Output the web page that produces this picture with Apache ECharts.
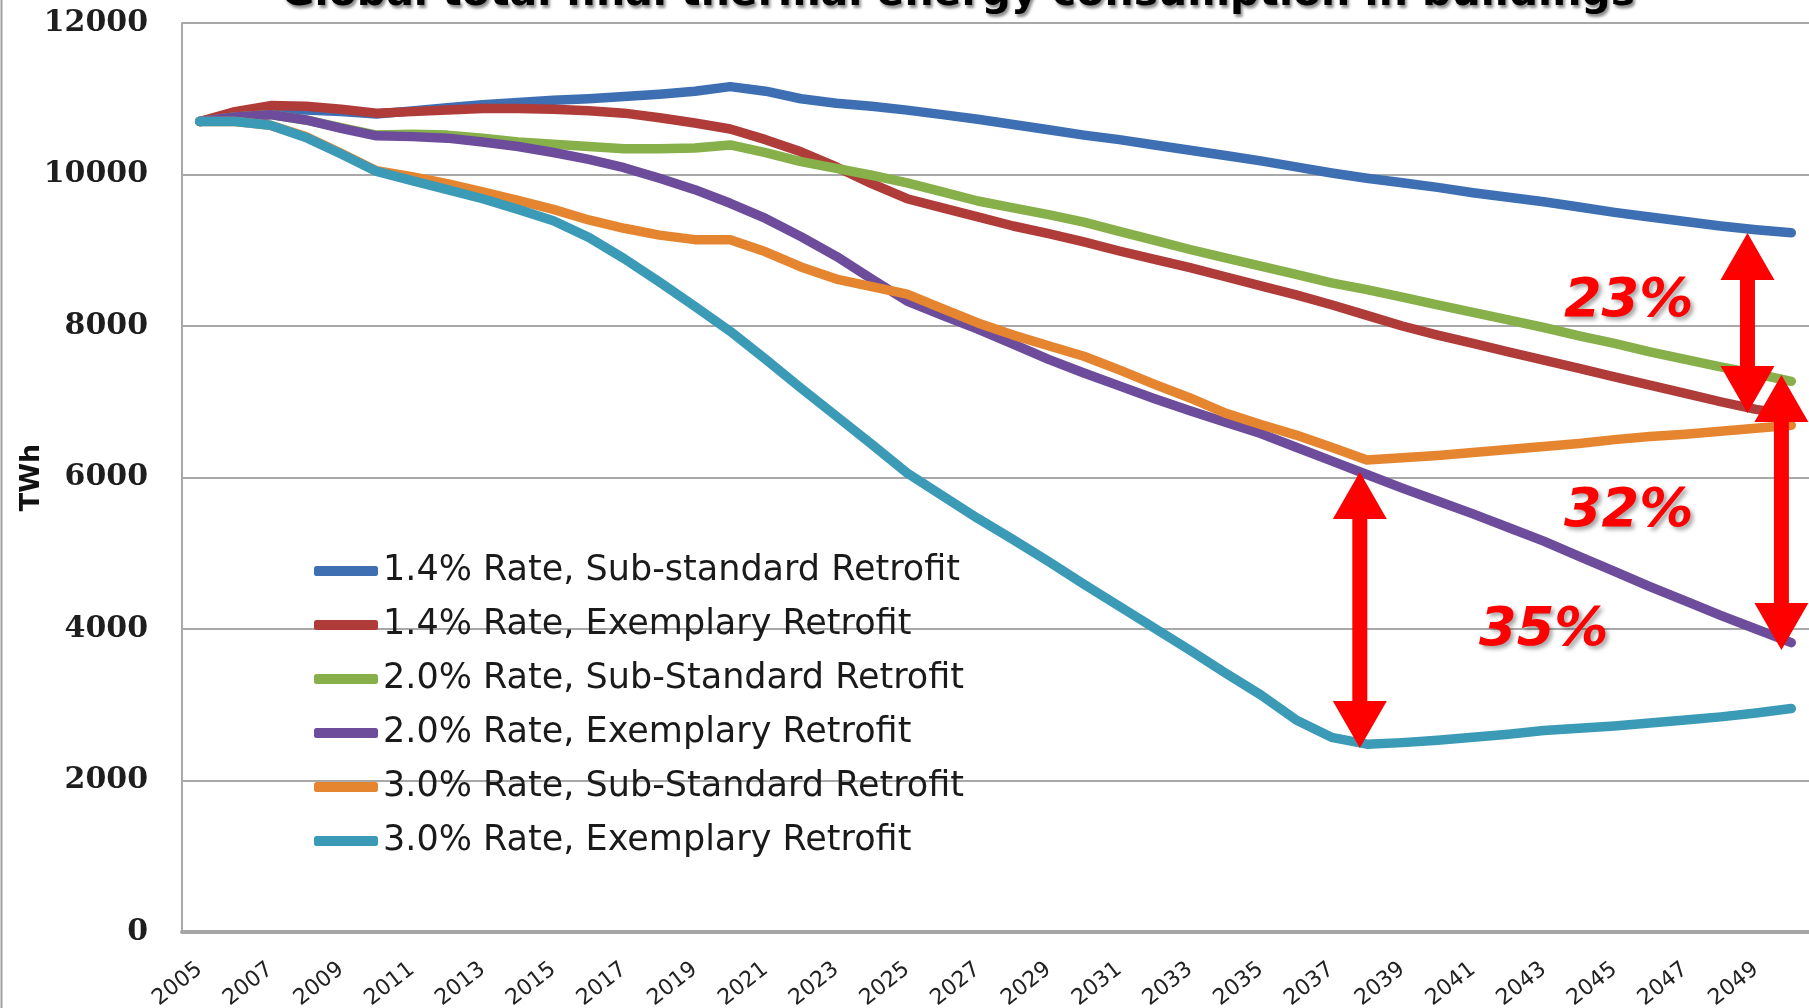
<!DOCTYPE html>
<html>
<head>
<meta charset="utf-8">
<title>Global total final thermal energy consumption in buildings</title>
<script src="https://cdn.jsdelivr.net/npm/echarts@6/dist/echarts.min.js"></script>
<style>
html, body { margin: 0; padding: 0; background: #fff; }
#main { width: 1809px; height: 1008px; }
</style>
</head>
<body>
<div id="main"></div>
<script>
// categories (years) and series values, TWh
const years = ['2005','2006','2007','2008','2009','2010','2011','2012','2013','2014','2015','2016','2017','2018','2019','2020',
	'2021','2022','2023','2024','2025','2026','2027','2028','2029','2030','2031','2032','2033','2034','2035','2036','2037','2038',
	'2039','2040','2041','2042','2043','2044','2045','2046','2047','2048','2049','2050']

const seriesNames = [
	'1.4% Rate, Sub-standard Retrofit',
	'1.4% Rate, Exemplary Retrofit',
	'2.0% Rate, Sub-Standard Retrofit',
	'2.0% Rate, Exemplary Retrofit',
	'3.0% Rate, Sub-Standard Retrofit',
	'3.0% Rate, Exemplary Retrofit'
]

const rate14Sub = [10700, 10790, 10850, 10850, 10830, 10800,
	10840, 10880, 10920, 10950, 10980, 11000, 11030, 11060, 11100, 11160,
	11100, 11000, 10940, 10900, 10850, 10790, 10730, 10660, 10590, 10520,
	10460, 10390, 10320, 10250, 10180, 10100, 10020, 9950, 9890, 9830,
	9760, 9700, 9640, 9570, 9500, 9440, 9380, 9320, 9270, 9230]

const rate14Ex = [10700, 10830, 10910, 10900, 10860, 10810,
	10830, 10850, 10870, 10870, 10860, 10840, 10810, 10750, 10680, 10600,
	10460, 10300, 10100, 9880, 9680, 9560, 9440, 9320, 9220, 9110,
	8990, 8880, 8770, 8650, 8530, 8410, 8280, 8140, 8000, 7880,
	7770, 7660, 7550, 7440, 7330, 7220, 7110, 7000, 6900, 6830]

const rate20Sub = [10700, 10760, 10790, 10720, 10620, 10520,
	10530, 10520, 10480, 10430, 10400, 10370, 10340, 10340, 10350, 10390,
	10290, 10170, 10080, 9990, 9890, 9770, 9650, 9560, 9470, 9370,
	9250, 9130, 9010, 8900, 8790, 8680, 8570, 8480, 8380, 8280,
	8180, 8080, 7980, 7870, 7770, 7660, 7560, 7460, 7370, 7270]

const rate20Ex = [10700, 10760, 10790, 10720, 10610, 10510,
	10500, 10480, 10430, 10370, 10290, 10200, 10090, 9950, 9800, 9620,
	9420, 9180, 8920, 8620, 8330, 8140, 7960, 7760, 7560, 7380,
	7210, 7040, 6880, 6730, 6580, 6400, 6220, 6040, 5860, 5690,
	5520, 5340, 5160, 4960, 4760, 4560, 4370, 4180, 4000, 3820]

const rate30Sub = [10700, 10700, 10650, 10500, 10280, 10050,
	9970, 9880, 9770, 9660, 9540, 9400, 9290, 9200, 9140, 9140,
	8980, 8780, 8620, 8520, 8420, 8230, 8040, 7880, 7740, 7600,
	7420, 7230, 7050, 6850, 6700, 6560, 6400, 6230, 6260, 6290,
	6330, 6370, 6410, 6450, 6500, 6540, 6570, 6610, 6650, 6690]

const rate30Ex = [10700, 10700, 10650, 10490, 10270, 10040,
	9920, 9800, 9680, 9540, 9390, 9170, 8890, 8580, 8260, 7930,
	7560, 7180, 6810, 6440, 6060, 5760, 5460, 5180, 4890, 4590,
	4300, 4010, 3720, 3420, 3130, 2800, 2570, 2480, 2500, 2530,
	2570, 2610, 2660, 2690, 2720, 2760, 2800, 2840, 2890, 2950]

// y axis ticks
const yTicks = [0, 2000, 4000, 6000, 8000, 10000, 12000]

// red double arrows: year index (fractional), top value, bottom value
const arrowYears = [43.76, 44.72, 32.8]
const arrowTops = [9228, 7353, 6073]
const arrowBottoms = [6851, 3723, 2429]
// percentage labels and where they sit
const pctTexts = ['23%', '32%', '35%']
const pctYears = [40.4, 40.4, 38.0]
const pctValues = [8317, 5545, 3974]

const colors = ['#3e6fb3', '#b03c3a', '#87b04b', '#6d4c9b', '#e58530', '#3b9bb7']
const seriesData = [rate14Sub, rate14Ex, rate20Sub, rate20Ex, rate30Sub, rate30Ex]

const chart = echarts.init(document.getElementById('main'))

chart.setOption({
	animation: false,
	color: colors,
	// keep the plot box fixed even though the year labels touch the bottom edge
	grid: { left: 182, right: 0, top: 23, bottom: 76, outerBoundsMode: 'none' },
	legend: {
		orient: 'vertical',
		left: 314,
		top: 551,
		padding: 0,
		itemWidth: 64,
		itemHeight: 10,
		itemGap: 14,
		icon: 'roundRect',
		data: seriesNames,
		textStyle: { fontFamily: 'DejaVu Sans', fontSize: 35, lineHeight: 40, color: '#1a1a1a' }
	},
	xAxis: {
		type: 'category',
		data: years,
		boundaryGap: true,
		axisLine: { lineStyle: { color: '#a6a6a6', width: 4 } },
		axisTick: { show: false },
		axisLabel: { interval: 1, rotate: 38, margin: 35, fontFamily: 'DejaVu Sans', fontSize: 22, color: '#222' }
	},
	yAxis: {
		type: 'value',
		min: yTicks[0],
		max: yTicks[yTicks.length - 1],
		interval: 2000,
		name: 'TWh',
		nameLocation: 'middle',
		nameRotate: 90,
		nameGap: 137,
		nameMoveOverlap: false,
		nameTextStyle: { fontFamily: 'DejaVu Sans', fontWeight: 'bold', fontSize: 27, color: '#111' },
		axisLine: { show: true, lineStyle: { color: '#a8a8a8', width: 2 } },
		axisTick: { show: false },
		splitLine: { lineStyle: { color: '#a8a8a8', width: 2 } },
		axisLabel: {
			margin: 34, fontFamily: 'DejaVu Serif', fontWeight: 'bold', fontSize: 30, color: '#1e1e1e',
			formatter: v => String(v)
		}
	},
	series: seriesNames.map((name, i) => ({
		name: name,
		type: 'line',
		data: seriesData[i],
		symbol: 'none',
		z: 2 + i,
		lineStyle: { width: 9.5, cap: 'round', join: 'round' }
	}))
})

// pixel position of a (fractional) category index and a value
function toPx(idx, value) {
	const p0 = chart.convertToPixel({ gridIndex: 0 }, [0, value])
	const p1 = chart.convertToPixel({ gridIndex: 0 }, [1, value])
	return [p0[0] + (p1[0] - p0[0]) * idx, p0[1]]
}

// double headed arrow as one polygon
function arrow(x, yTop, yBot) {
	const hw = 27, hh = 47, sw = 7.5
	return [
		[x, yTop], [x + hw, yTop + hh], [x + sw, yTop + hh], [x + sw, yBot - hh], [x + hw, yBot - hh],
		[x, yBot], [x - hw, yBot - hh], [x - sw, yBot - hh], [x - sw, yTop + hh], [x - hw, yTop + hh]
	]
}

const graphics = []
// frame line on the left edge
graphics.push({ type: 'line', shape: { x1: 1.5, y1: 0, x2: 1.5, y2: 1008 }, style: { stroke: '#a0a0a0', lineWidth: 2 }, z: 50 })
// title, cut by the top edge like the picture
graphics.push({
	type: 'text', x: 958, y: -6, z: 50,
	style: {
		text: 'Global total final thermal energy consumption in buildings',
		font: 'bold 41px "DejaVu Sans"', fill: '#000', align: 'center', verticalAlign: 'middle',
		textShadowColor: 'rgba(0,0,0,0.45)', textShadowBlur: 3, textShadowOffsetX: 2, textShadowOffsetY: 3
	}
})
arrowYears.forEach((yr, i) => {
	const top = toPx(yr, arrowTops[i])
	const bot = toPx(yr, arrowBottoms[i])
	graphics.push({ type: 'polygon', z: 100, shape: { points: arrow(top[0], top[1], bot[1]) }, style: { fill: '#ff0000' } })
})
pctTexts.forEach((t, i) => {
	const p = toPx(pctYears[i], pctValues[i])
	graphics.push({
		type: 'text', x: p[0], y: p[1], z: 100,
		style: {
			text: t, font: 'italic bold 54px "DejaVu Sans"', fill: '#ff0000', align: 'center', verticalAlign: 'middle',
			textShadowColor: 'rgba(0,0,0,0.35)', textShadowBlur: 4, textShadowOffsetX: 3, textShadowOffsetY: 3
		}
	})
})
chart.setOption({ graphic: graphics })
</script>
</body>
</html>
